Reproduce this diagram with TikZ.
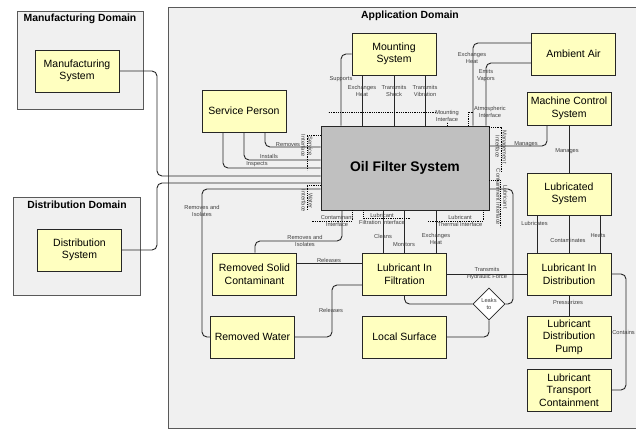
\documentclass[tikz,border=0pt]{standalone}
\usepackage{fontspec}
\setmainfont{Liberation Sans}
\usepackage{tikz}
\usetikzlibrary{shapes.geometric, positioning}

\definecolor{domfill}{RGB}{240,240,240}
\definecolor{compfill}{RGB}{255,255,192}
\definecolor{corefill}{RGB}{192,192,192}

\tikzset{
  domainbox/.style={draw=black!65, line width=0.9pt, fill=domfill, inner sep=0pt},
  domtitle/.style={font=\fontsize{10.4}{12}\selectfont\bfseries},
  comp/.style={draw=black!85, line width=0.8pt, fill=compfill, align=center, inner sep=0pt,
    minimum width=84pt, minimum height=42pt, font=\fontsize{10.5}{12.5}\selectfont},
  conn/.style={draw=black!85, line width=0.9pt, rounded corners=5pt},
  iface/.style={draw=black, line width=0.8pt, dash pattern=on 0.9pt off 0.9pt},
  lbl/.style={font=\fontsize{5.7}{7}\selectfont, text=black!75, align=center, inner sep=0pt},
}

\begin{document}
\begin{tikzpicture}[x=1pt, y=-1pt]
  \useasboundingbox (0,0) rectangle (636,429);

  % Domaenen
  \node[domainbox, minimum width=126pt, minimum height=98pt] (mfgdom) at (80,60) {};
  \node[domtitle] (mfgtitle) at (80,19) {Manufacturing Domain};
  \node[domainbox, minimum width=127pt, minimum height=98pt] (distdom) at (76.5,246) {};
  \node[domtitle] (disttitle) at (77,205) {Distribution Domain};
  \node[domainbox, minimum width=472pt, minimum height=421pt] (appdom) at (404,217.5) {};
  \node[domtitle] (apptitle) at (410,16) {Application Domain};

  % Komponenten
  \node[comp] (mfgsys) at (77,71) {Manufacturing\\System};
  \node[comp] (distsys) at (79.5,250) {Distribution\\System};
  \node[comp] (service) at (244,111) {Service Person};
  \node[comp] (mount) at (394,54) {Mounting\\System};
  \node[comp] (air) at (573.5,54) {Ambient Air};
  \node[comp, minimum height=33pt] (mcs) at (569,108.5) {Machine Control\\System};
  \node[comp] (lubsys) at (569,194) {Lubricated\\System};
  \node[comp, fill=corefill, minimum width=168pt, minimum height=84pt,
    font=\fontsize{13.9}{16}\selectfont\bfseries] (ofs) at (405,168) {Oil Filter System};
  \node[comp] (rsc) at (254.5,274) {Removed Solid\\Contaminant};
  \node[comp] (rw) at (252.5,337) {Removed Water};
  \node[comp] (lif) at (404.5,274) {Lubricant In\\Filtration};
  \node[comp] (local) at (404.5,337) {Local Surface};
  \node[comp] (lid) at (569,274) {Lubricant In\\Distribution};
  \node[comp] (ldp) at (569,337) {Lubricant\\Distribution\\Pump};
  \node[comp] (ltc) at (569,390) {Lubricant\\Transport\\Containment};
  \node[diamond, draw=black!85, fill=white, line width=0.8pt, minimum width=32pt,
    minimum height=32pt, lbl] (leak) at (489,304) {Leaks\\to};

  % Verbindungen links
  \draw[conn] (mfgsys.east) -- (157,71) -- (157,176) -- (ofs.west |- 0,176);
  \draw[conn] (distsys.east) -- (157,250) -- (157,183) -- (ofs.west |- 0,183);
  \draw[conn] (service.south -| 265,0) -- (265,147) -- (ofs.west |- 0,147);
  \draw[conn] (service.south -| 244,0) -- (244,160) -- (ofs.west |- 0,160);
  \draw[conn] (service.south -| 223,0) -- (223,168) -- (ofs.west |- 0,168);
  \draw[conn] (ofs.west |- 0,189) -- (202,189) -- (202,337) -- (rw.west);

  % Verbindungen oben
  \draw[conn] (mount.west) -- (341,54) -- (ofs.north -| 341,0);
  \draw[conn] (mount.south -| 362,0) -- (ofs.north -| 362,0);
  \draw[conn] (mount.south -| 394,0) -- (ofs.north -| 394,0);
  \draw[conn] (mount.south -| 425,0) -- (ofs.north -| 425,0);
  \draw[conn] (air.west |- 0,43) -- (473,43) -- (ofs.north -| 473,0);
  \draw[conn] (air.west |- 0,63) -- (486,63) -- (ofs.north -| 486,0);

  % Verbindungen rechts
  \draw[conn] (mcs.south -| 547,0) -- (547,146) -- (ofs.east |- 0,146);
  \draw[conn] (mcs.south) -- (lubsys.north);
  \draw[conn] (lubsys.south -| 537,0) -- (lid.north -| 537,0);
  \draw[conn] (lubsys.south -| 569,0) -- (lid.north -| 569,0);
  \draw[conn] (lubsys.south -| 600,0) -- (lid.north -| 600,0);
  \draw[conn] (lid.south) -- (ldp.north);
  \draw[conn] (lid.east) -- (626,274) -- (626,390) -- (ltc.east);

  % Verbindungen unten
  \draw[conn] (ofs.south -| 342,0) -- (342,241) -- (255,241) -- (rsc.north -| 255,0);
  \draw[conn] (ofs.south -| 383,0) -- (lif.north -| 383,0);
  \draw[conn] (ofs.south -| 404,0) -- (lif.north -| 404,0);
  \draw[conn] (ofs.south -| 436,0) -- (lif.north -| 436,0);
  \draw[conn] (rsc.east |- 0,263) -- (lif.west |- 0,263);
  \draw[conn] (rw.east) -- (332,337) -- (332,285) -- (lif.west |- 0,285);
  \draw[conn] (lif.east) -- (lid.west);
  \draw[conn] (lif.south) -- (404.5,304) -- (leak.west);
  \draw[conn] (leak.east) -- (513,304) -- (513,189) -- (ofs.east |- 0,189);
  \draw[conn] (leak.south) -- (489,337) -- (local.east);

  % Schnittstellen
  \draw[iface] (ofs.west |- 0,135) -- (307,135) -- (307,170);
  \draw[iface] (ofs.west |- 0,185) -- (307,185) -- (307,210);
  \draw[iface] (ofs.south -| 352,0) -- (352,221) -- (312,221);
  \draw[iface] (ofs.south -| 363,0) -- (363,218) -- (410,218);
  \draw[iface] (ofs.south -| 483,0) -- (483,221) -- (428,221);
  \draw[iface] (ofs.east |- 0,127) -- (501,127) -- (501,172);
  \draw[iface] (ofs.east |- 0,180) -- (500,180) -- (500,227);
  \draw[iface] (ofs.north -| 447,0) -- (447,122) (436,112) -- (328,112);
  \draw[iface] (ofs.north -| 468,0) -- (468,112) -- (474,112);

  \node[lbl, rotate=-90] (svcif) at (307,146) {Service\\Interface};
  \node[lbl, rotate=-90] (waterif) at (307,201) {Water\\Interface};
  \node[lbl, rotate=-90] (mgmtif) at (501,147) {Management\\Interface};
  \node[lbl, rotate=-90] (contif) at (502,197) {Lubricant\\Containment Interface};
  \node[lbl] (contamif) at (337,220.5) {Contaminant\\Interface};
  \node[lbl] (filtif) at (382,218.5) {Lubricant\\Filtration Interface};
  \node[lbl] (thermif) at (460,221) {Lubricant\\Thermal Interface};
  \node[lbl] (mountif) at (447,115.5) {Mounting\\Interface};
  \node[lbl] (atmosif) at (490,111.5) {Atmospheric\\Interface};

  % Beschriftungen
  \node[lbl] (lremoves) at (288,145) {Removes};
  \node[lbl] (linstalls) at (269,156) {Installs};
  \node[lbl] (linspects) at (257,164) {Inspects};
  \node[lbl] (lisowater) at (202,210.5) {Removes and\\Isolates};
  \node[lbl] (lisosolid) at (305,240.5) {Removes and\\Isolates};
  \node[lbl] (lsupports) at (341,79) {Supports};
  \node[lbl] (lmheat) at (362,90.5) {Exchanges\\Heat};
  \node[lbl] (lshock) at (394,90.5) {Transmits\\Shock};
  \node[lbl] (lvib) at (425,90.5) {Transmits\\Vibration};
  \node[lbl] (laheat) at (472,58) {Exchanges\\Heat};
  \node[lbl] (lvapors) at (486,75.5) {Emits\\Vapors};
  \node[lbl] (lmanages) at (526,144) {Manages};
  \node[lbl] (lmanages2) at (567,151) {Manages};
  \node[lbl] (llubricates) at (534.5,223) {Lubricates};
  \node[lbl] (lcontam) at (568,240) {Contaminates};
  \node[lbl] (lheats) at (598,236) {Heats};
  \node[lbl] (lpress) at (568,302) {Pressurizes};
  \node[lbl, anchor=east] (lcontains) at (635,332) {Contains};
  \node[lbl] (lcleans) at (383,236) {Cleans};
  \node[lbl] (lmonitors) at (404,244) {Monitors};
  \node[lbl] (lfheat) at (436,238.5) {Exchanges\\Heat};
  \node[lbl] (lrelsolid) at (329,260) {Releases};
  \node[lbl] (lrelwater) at (331,310) {Releases};
  \node[lbl] (lhydraulic) at (487,273.5) {Transmits\\Hydraulic Force};
\end{tikzpicture}
\end{document}
